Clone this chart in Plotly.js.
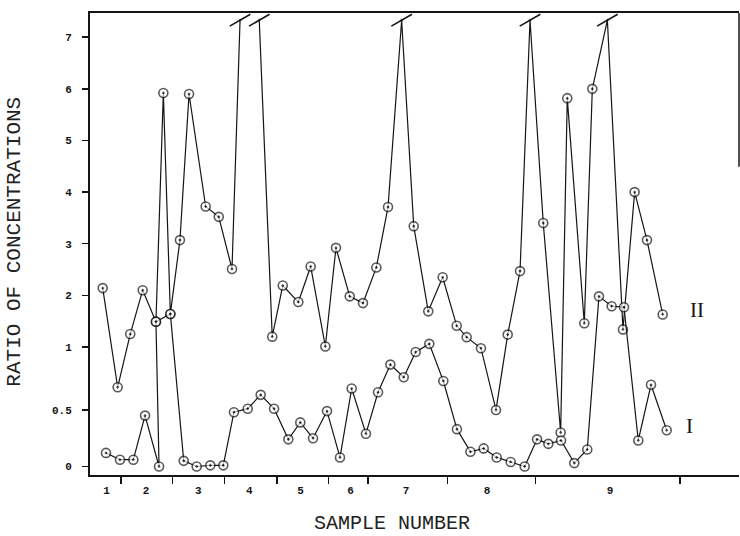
<!DOCTYPE html>
<html>
<head>
<meta charset="utf-8">
<script src="https://cdn.plot.ly/plotly-3.0.1.min.js"></script>
<style>html,body{margin:0;padding:0;background:#fff;}#chart{width:740px;height:536px;}</style>
</head>
<body>
<div id="chart"></div>
<script>
// ---- data ----
// sample groups along the x axis
const groupLabels   = ['1','2','3','4','5','6','7','8','9'];
const groupLabelPos = [1.27, 4.31, 8.34, 12.28, 16.22, 20.07, 24.35, 30.59, 40.06];
const groupBounds   = [2.39, 6.34, 10.36, 14.41, 18.36, 21.42, 27.56, 34.32, 45.45];

// y axis tick labels (the axis is stretched below 1)
const yTickValues = [0, 0.5, 1, 2, 3, 4, 5, 6, 7];
const yTickLabels = ['0', '0.5', '1', '2', '3', '4', '5', '6', '7'];

// value used for points that run off the top of the scale (drawn with a break mark)
const OFF = 7.33;

// curve I (sample position, ratio)
const xI = [1.23,2.31,3.34,4.24,5.32,5.08,6.19,7.22,8.22,9.27,10.27,11.09,12.15,13.15,14.18,15.28,16.20,17.18,18.26,19.26,20.16,21.26,22.19,23.14,24.17,25.09,26.14,27.22,28.27,29.31,30.33,31.33,32.41,33.49,34.44,35.31,36.29,37.31,38.31,39.21,40.19,41.14,42.24,43.22,44.43];
const yI = [0.12,0.06,0.06,0.45,0,1.49,1.64,0.05,0,0.01,0.01,0.48,0.51,0.62,0.51,0.24,0.39,0.25,0.49,0.08,0.67,0.29,0.64,0.86,0.76,0.96,1.06,0.73,0.33,0.13,0.16,0.08,0.04,0,0.24,0.20,0.23,0.03,0.15,1.98,1.79,1.77,0.23,0.70,0.32];

// curve II (sample position, ratio); null = gap in the line
const xII = [0.98,2.13,3.10,4.06,5.08,5.65,6.19,6.93,7.63,8.91,9.92,10.94,11.56,12.3,13.04,14.04,14.85,16.05,17.00,18.13,18.95,20.01,21.03,22.06,22.96,24.01,24.94,26.06,27.17,28.25,29.02,30.12,31.28,32.18,33.13,33.90,34.92,36.26,36.77,38.08,38.70,39.86,41.06,41.96,42.91,44.12];
const yII = [2.14,0.68,1.25,2.10,1.49,5.92,1.64,3.07,5.90,3.72,3.52,2.51,OFF,null,OFF,1.20,2.19,1.87,2.56,1.01,2.92,1.98,1.85,2.54,3.71,OFF,3.34,1.69,2.35,1.41,1.19,0.99,0.50,1.24,2.47,OFF,3.40,0.30,5.82,1.46,6.00,OFF,1.34,4.00,3.07,1.63];

// ---- axis scale of the original figure: 0..0.5..1 stretched, linear above 1 ----
function scaleY(v) {
  if (v === null) return null;
  if (v <= 0.5) return v * 2.19;
  if (v <= 1) return 1.095 + (v - 0.5) * 2.44;
  return 2.315 + (v - 1);
}

const INK = '#151515';
const markerStyle = (ys) => ({
  symbol: 'circle-dot',
  size: ys.map(v => (v === OFF || v === null) ? 0 : 9),
  color: '#ffffff',
  line: {color: INK, width: 1.6}
});

const traceI = {
  x: xI, y: yI.map(scaleY), type: 'scatter', mode: 'lines+markers',
  line: {color: INK, width: 1.2}, marker: markerStyle(yI),
  hoverinfo: 'skip', showlegend: false
};
const traceII = {
  x: xII, y: yII.map(scaleY), type: 'scatter', mode: 'lines+markers',
  connectgaps: false,
  line: {color: INK, width: 1.2}, marker: markerStyle(yII),
  hoverinfo: 'skip', showlegend: false
};
const offX = xII.filter((x, i) => yII[i] === OFF);
const traceBreaks = {
  x: offX, y: offX.map(() => scaleY(OFF)), type: 'scatter', mode: 'markers',
  marker: {symbol: 'line-ew', angle: -30, size: 17, color: INK, line: {color: INK, width: 1.6}},
  hoverinfo: 'skip', showlegend: false
};

const tickFont = {family: 'Liberation Mono, DejaVu Sans Mono, monospace', size: 11, color: INK, weight: 'bold'};
const titleFont = {family: 'Liberation Mono, DejaVu Sans Mono, monospace', size: 20, color: '#222'};

const layout = {
  width: 740, height: 536,
  margin: {l: 90, r: 1, t: 13, b: 61},
  paper_bgcolor: '#fff', plot_bgcolor: '#fff',
  xaxis: {
    range: [0, 50], showgrid: false, zeroline: false,
    showline: true, linecolor: INK, linewidth: 1.8, mirror: true,
    tickmode: 'array', tickvals: groupLabelPos, ticktext: groupLabels,
    ticks: '', tickfont: tickFont, ticklabelstandoff: 4,
    minor: {tickmode: 'array', tickvals: groupBounds, ticks: 'outside', ticklen: 7, tickwidth: 1.5, tickcolor: INK, showgrid: false}
  },
  yaxis: {
    range: [-0.165, 8.784], showgrid: false, zeroline: false,
    showline: true, linecolor: INK, linewidth: 2,
    tickmode: 'array', tickvals: yTickValues.map(scaleY), ticktext: yTickLabels,
    ticks: 'outside', ticklen: 6, tickwidth: 1.5, tickcolor: INK,
    tickfont: tickFont, ticklabelstandoff: 8
  },
  shapes: [
    {type: 'line', xref: 'paper', yref: 'paper', x0: 1, x1: 1, y0: 0.667, y1: 1, line: {color: INK, width: 1.5}}
  ],
  annotations: [
    {text: 'RATIO OF CONCENTRATIONS', xref: 'paper', yref: 'paper', x: -0.1156, y: 0.505,
     textangle: -90, showarrow: false, xanchor: 'center', yanchor: 'middle',
     font: {family: titleFont.family, size: 21, color: '#222'}},
    {text: 'SAMPLE NUMBER', xref: 'paper', yref: 'paper', x: 0.465, y: -0.104,
     showarrow: false, xanchor: 'center', yanchor: 'middle', font: titleFont},
    {text: 'II', xref: 'paper', yref: 'paper', x: 0.935, y: 0.357, showarrow: false,
     xanchor: 'center', yanchor: 'middle', font: {family: 'Liberation Serif, serif', size: 21, color: INK}},
    {text: 'I', xref: 'paper', yref: 'paper', x: 0.924, y: 0.106, showarrow: false,
     xanchor: 'center', yanchor: 'middle', font: {family: 'Liberation Serif, serif', size: 21, color: INK}}
  ]
};

Plotly.newPlot('chart', [traceII, traceI, traceBreaks], layout, {staticPlot: true, displayModeBar: false});
</script>
</body>
</html>
